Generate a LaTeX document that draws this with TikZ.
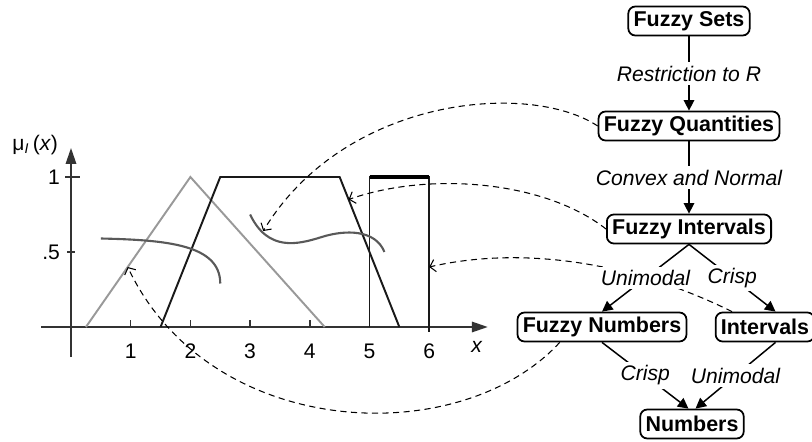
\documentclass[tikz,border=0pt]{standalone}
\usepackage{fontspec}
\setmainfont{Liberation Sans}
\usetikzlibrary{arrows.meta}

\begin{document}
\begin{tikzpicture}[
  font=\fontsize{12}{14}\selectfont,
  box/.style={draw, line width=1pt, rounded corners=4pt,
              font=\fontsize{12.2}{14}\selectfont\bfseries,
              inner xsep=3pt, inner ysep=2pt, minimum height=0.58cm},
  lab/.style={fill=white, font=\fontsize{12}{14}\selectfont\itshape, inner sep=2pt},
  flow/.style={line width=0.85pt, -{Triangle[length=6pt,width=6pt]}},
  link/.style={line width=0.6pt, dash pattern=on 3.5pt off 2.5pt,
               -{Straight Barb[length=3pt,width=7pt]}},
  axis/.style={line width=0.8pt, black!80, -{Triangle[length=9pt,width=6pt]}},
  tickmark/.style={line width=0.8pt, black!80},
  member/.style={line width=1.1pt, black!90},
  wave/.style={line width=1.2pt, black!65},
]
\useasboundingbox (0,0) rectangle (16.24,8.82);

%% ---- membership functions ----
\begin{scope}[shift={(1.42,2.28)}, x=1.194cm, y=3cm]
  \draw[axis] (-0.5,0) -- (6.98,0);
  \draw[axis] (0,-0.2) -- (0,1.193);
  \draw[tickmark, line width=1.5pt] (0,-0.05) -- (0,0.05);
  \foreach \i in {1,...,6}
    \draw[tickmark] (\i,0) -- (\i,0.047);
  \draw[tickmark] (-0.1,1) -- (0.15,1);
  \draw[tickmark] (-0.067,0.5) -- (0.067,0.5);

  \foreach \i in {1,...,6}
    \node (xl\i) at (\i,-0.16) {\i};
  \node (xlab) at (6.80,-0.13) {\textit{x}};
  \node[anchor=east, inner sep=0pt] (yl1) at (-0.18,1) {1};
  \node[anchor=east, inner sep=0pt] (yl5) at (-0.18,0.5) {.5};
  \node (ylab) at (-0.60,1.213) {μ\textsubscript{\itshape I}\,(\textit{x})};

  % triangle, trapezoid, interval
  \draw[line width=1.1pt, black!40] (0.25,0) -- (2,1) -- (4.25,0);
  \draw[member] (1.5,0) -- (2.5,1) -- (4.5,1) -- (5.5,0);
  \draw[member] (5,0) -- (5,1.01);
  \draw[member] (6,-0.03) -- (6,1.01);
  \draw[line width=2pt, black] (5,1) -- (6,1);

  % fuzzy quantities
  \draw[wave] (0.5,0.59) .. controls (1.6,0.58) and (2.5,0.55) .. (2.5,0.29);
  \draw[wave] (3.0,0.75) .. controls (3.3,0.5) and (3.8,0.55) .. (4.2,0.6)
              .. controls (4.6,0.65) and (5.1,0.65) .. (5.25,0.5);

  \coordinate (onwave) at (3.22,0.64);
  \coordinate (ontrap) at (4.65,0.85);
  \coordinate (onrect) at (6,0.4);
  \coordinate (ontri)  at (0.95,0.40);
\end{scope}

%% ---- hierarchy ----
\node[box] (fsets)  at (13.78,8.40) {Fuzzy Sets};
\node[box] (fquant) at (13.78,6.30) {Fuzzy Quantities};
\node[box] (fint)   at (13.78,4.24) {Fuzzy Intervals};
\node[box] (fnum)   at (12.04,2.28) {Fuzzy Numbers};
\node[box] (intv)   at (15.30,2.28) {Intervals};
\node[box] (num)    at (13.84,0.34) {Numbers};

%% ---- dashed links to the plot ----
\draw[link] (fquant.west) .. controls (10.6,7.2) and (6.9,6.9) .. (onwave);
\draw[link] (fint.west) .. controls (10.9,5.2) and (8.6,5.4) .. (ontrap);
\draw[link] (intv.155) .. controls (12.6,3.6) and (10.4,3.9) .. (onrect);
\draw[link] (fnum.200) .. controls (9.2,-0.2) and (4.2,0.0) .. (ontri);

%% ---- edges ----
\draw[flow] (fsets) -- node[lab] {Restriction to R} (fquant);
\draw[flow] (fquant) -- node[lab] {Convex and Normal} (fint);
\draw[flow] (fint.south) -- node[lab] {Unimodal} (fnum.north);
\draw[flow] (fint.south) -- node[lab] {Crisp} ([xshift=6pt]intv.north);
\draw[flow] (fnum.south) -- node[lab] {Crisp} ([xshift=-2pt]num.north);
\draw[flow] ([xshift=6pt]intv.south) -- node[lab] {Unimodal} ([xshift=2pt]num.north);

\end{tikzpicture}
\end{document}
